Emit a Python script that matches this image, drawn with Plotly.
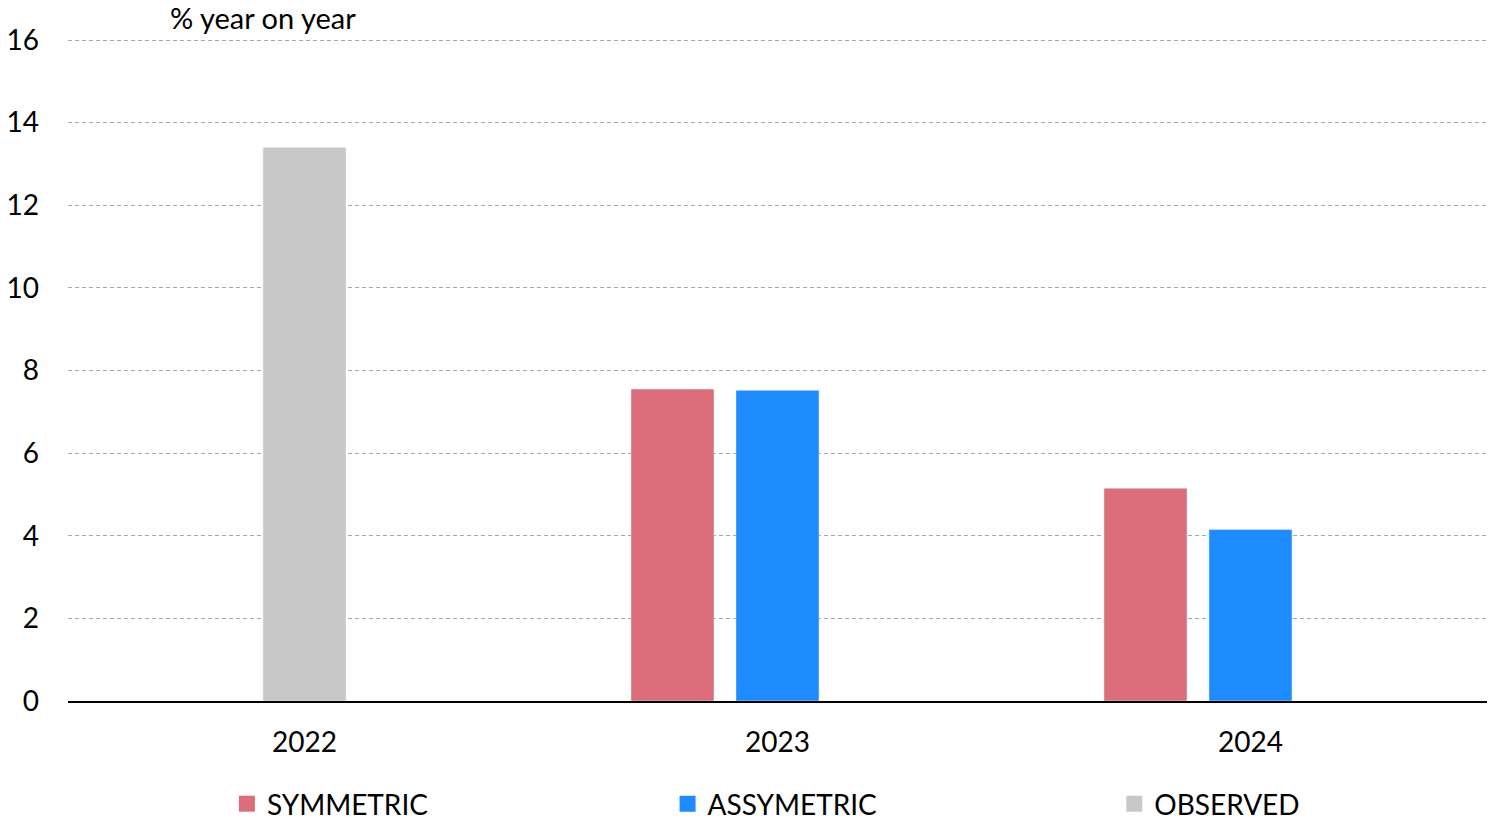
import plotly.graph_objects as go

years = ["2022", "2023", "2024"]
symmetric = [None, 7.55, 5.15]
assymetric = [None, 7.52, 4.15]
observed = [13.4, None, None]

names = ["SYMMETRIC", "ASSYMETRIC", "OBSERVED"]
colors = ["#DB6E7A", "#1E8BFF", "#C8C8C8"]

FONT = "Lato"
W = 0.1755
PLOT_H = 825 - 124 - 38

fig = go.Figure()
fig.add_trace(go.Bar(x=years, y=symmetric, name=names[0], marker_color=colors[0],
                     width=W, offset=-0.222 - W / 2, showlegend=False))
fig.add_trace(go.Bar(x=years, y=assymetric, name=names[1], marker_color=colors[1],
                     width=W, offset=-W / 2, showlegend=False))
fig.add_trace(go.Bar(x=years, y=observed, name=names[2], marker_color=colors[2],
                     width=W, offset=-W / 2, showlegend=False))

# legend entries with larger square swatches
for name, col, lg in zip(names, colors, ["legend", "legend2", "legend3"]):
    fig.add_trace(go.Scatter(x=[None], y=[None], mode="markers", name=name,
                             marker=dict(symbol="square", size=18, color=col),
                             legend=lg, showlegend=True, hoverinfo="skip"))

leg = dict(orientation="h", yanchor="middle", y=-103 / PLOT_H, xanchor="left",
           font=dict(size=28), bgcolor="rgba(0,0,0,0)", itemsizing="trace")

fig.update_layout(
    width=1488, height=825,
    margin=dict(l=68, r=1, t=38, b=124, autoexpand=False),
    plot_bgcolor="white", paper_bgcolor="white",
    barmode="overlay",
    font=dict(family=FONT, size=28, color="black"),
    showlegend=True,
    legend=dict(leg, x=(227 - 68) / 1420),
    legend2=dict(leg, x=(668 - 68) / 1420),
    legend3=dict(leg, x=(1115 - 68) / 1420),
    xaxis=dict(type="category", categoryarray=years, categoryorder="array",
               range=[-0.5, 2.5], showline=True, linecolor="black",
               linewidth=2, ticks="", ticklabelstandoff=15, tickfont=dict(size=28)),
    yaxis=dict(range=[0, 16.05], tickvals=list(range(0, 17, 2)), showgrid=True,
               gridcolor="#A6A6A6", griddash="4px,3px", gridwidth=1,
               zeroline=False, ticklabelstandoff=28, tickfont=dict(size=28)),
    annotations=[dict(text="% year on year", xref="paper", yref="paper",
                      x=(168 - 68) / 1420, y=1 + 21 / PLOT_H, xanchor="left", yanchor="middle",
                      showarrow=False, font=dict(size=29))],
)

fig.write_html("out.html")
